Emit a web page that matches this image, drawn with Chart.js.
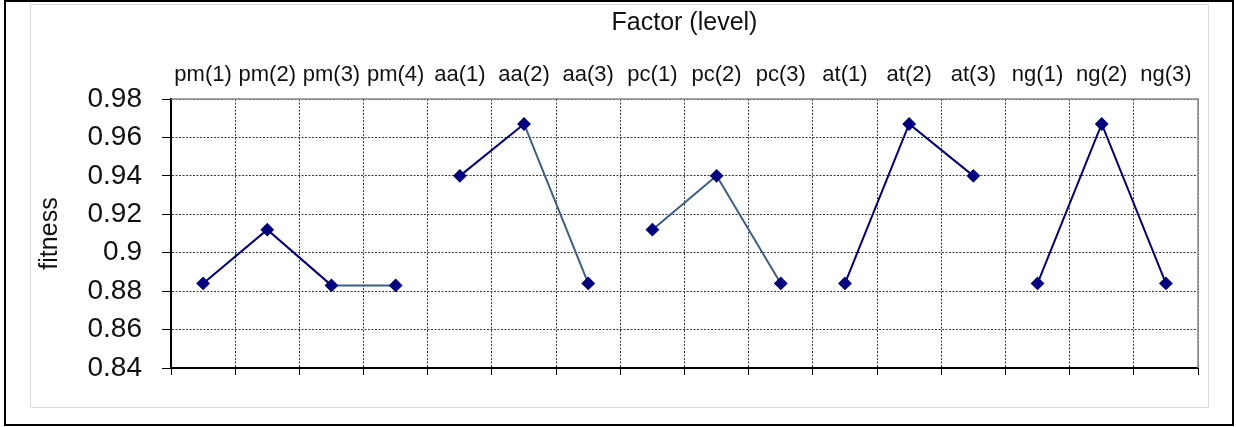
<!DOCTYPE html>
<html>
<head>
<meta charset="utf-8">
<script src="https://cdn.jsdelivr.net/npm/chart.js@4.4.1/dist/chart.umd.min.js"></script>
<style>
  body { margin: 0; background: #fff; }
  #outer { position: absolute; left: 4px; top: 0; width: 1230px; height: 426px; border: 2px solid #000; box-sizing: border-box; }
  #frame { position: absolute; left: 30px; top: 4px; width: 1179px; height: 404px; border: 1px solid #dcdcdc; box-sizing: border-box; }
  canvas { position: absolute; left: 0; top: 0; }
</style>
</head>
<body>
<div id="outer"></div>
<div id="frame"></div>
<canvas id="chart" width="1236" height="427"></canvas>
<script>
// factor levels along the top axis
const categories = ["pm(1)", "pm(2)", "pm(3)", "pm(4)", "aa(1)", "aa(2)", "aa(3)", "pc(1)", "pc(2)", "pc(3)",
                    "at(1)", "at(2)", "at(3)", "ng(1)", "ng(2)", "ng(3)"];

// fitness per level, one array per factor
const pm = [0.884, 0.912, 0.883, 0.883];
const aa = [0.940, 0.967, 0.884];
const pc = [0.912, 0.940, 0.884];
const at = [0.884, 0.967, 0.940];
const ng = [0.884, 0.967, 0.884];

const yTicks = [0.84, 0.86, 0.88, 0.9, 0.92, 0.94, 0.96, 0.98];

const NAVY = "#000080";
const STEEL = "#3d5d8a";
const FONT = "Arial, 'Liberation Sans', sans-serif";

// line colour of each segment inside a factor
const segColors = {
    pm: [NAVY, NAVY, STEEL],
    aa: [NAVY, STEEL],
    pc: [STEEL, STEEL],
    at: [NAVY, NAVY],
    ng: [NAVY, NAVY]
};

const factors = [["pm", pm], ["aa", aa], ["pc", pc], ["at", at], ["ng", ng]];
let offset = 0;
const datasets = factors.map(([name, vals]) => {
    const data = categories.map((c, i) => (i >= offset && i < offset + vals.length) ? vals[i - offset] : null);
    const start = offset;
    offset += vals.length;
    return {
        label: name,
        data: data,
        borderColor: NAVY,
        borderWidth: 2,
        pointStyle: "rectRot",
        pointRadius: 5.5,
        pointBackgroundColor: NAVY,
        pointBorderColor: NAVY,
        spanGaps: false,
        segment: {
            borderColor: ctx => segColors[name][ctx.p0DataIndex - start] || NAVY
        }
    };
});

const frameRect = {
    id: "frameRect",
    beforeDatasetsDraw(chart) {
        const a = chart.chartArea, c = chart.ctx;
        c.save();
        c.strokeStyle = "#8a8a8a";
        c.lineWidth = 1.5;
        c.beginPath();
        c.moveTo(a.left, a.top);
        c.lineTo(a.right, a.top);
        c.lineTo(a.right, a.bottom);
        c.stroke();
        c.restore();
    }
};

const gridDash = [2, 1.5];
const gridColor = "#3a3a3a";

new Chart(document.getElementById("chart").getContext("2d"), {
    type: "line",
    data: { labels: categories, datasets: datasets },
    plugins: [frameRect],
    options: {
        responsive: false,
        animation: false,
        layout: { padding: { left: 31, right: 38, top: 4, bottom: 52 } },
        plugins: { legend: { display: false }, tooltip: { enabled: false } },
        scales: {
            x: {
                type: "category",
                position: "top",
                offset: true,
                grid: { offset: true, color: gridColor, lineWidth: 1, drawTicks: false },
                border: { display: false, dash: gridDash },
                ticks: { color: "#111", font: { family: FONT, size: 22 }, padding: 11, maxRotation: 0, autoSkip: false },
                title: { display: true, text: "Factor (level)", color: "#111", font: { family: FONT, size: 25 }, padding: { top: 4, bottom: 4 } },
                afterFit: s => { s.height = 95; }
            },
            x2: {
                type: "category",
                position: "bottom",
                labels: categories,
                offset: true,
                grid: { offset: true, drawOnChartArea: false, color: "#000", tickLength: 7, lineWidth: 1 },
                border: { color: "#000", width: 2 },
                ticks: { display: false }
            },
            y: {
                min: 0.84,
                max: 0.98,
                afterBuildTicks: s => { s.ticks = yTicks.map(v => ({ value: v })); },
                grid: { color: gridColor, lineWidth: 1, tickLength: 9, tickColor: "#000" },
                border: { color: "#000", width: 2, dash: gridDash },
                ticks: {
                    color: "#111",
                    padding: 20,
                    font: { family: FONT, size: 28 },
                    callback: v => parseFloat(Number(v).toFixed(2)).toString()
                },
                title: { display: true, text: "fitness", color: "#111", font: { family: FONT, size: 25 }, padding: { top: 4, bottom: 0 } },
                afterFit: s => { s.width = 140; }
            }
        }
    }
});
</script>
</body>
</html>
